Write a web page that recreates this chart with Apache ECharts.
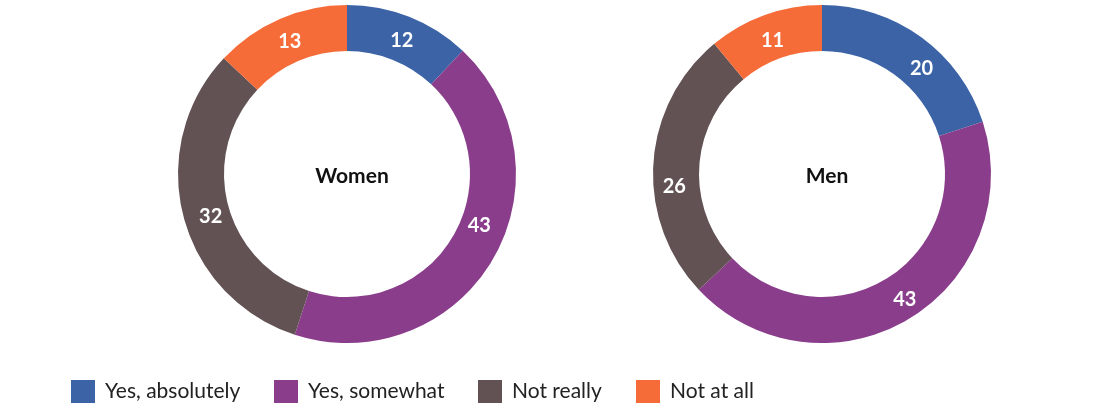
<!DOCTYPE html>
<html>
<head>
<meta charset="utf-8">
<script src="https://cdn.jsdelivr.net/npm/echarts@6/dist/echarts.min.js"></script>
<style>
  html, body { margin: 0; padding: 0; background: #fff; }
  #chart { width: 1105px; height: 417px; }
</style>
</head>
<body>
<div id="chart"></div>
<script>
// 数据
const categories = ['Yes, absolutely', 'Yes, somewhat', 'Not really', 'Not at all'];
const groups = ['Women', 'Men'];
const womenValues = [12, 43, 32, 13];
const menValues = [20, 43, 26, 11];
const colors = ['#3b63a6', '#893d8b', '#625254', '#f66c39'];

// 标签微调（像素偏移，仅用于样式）
const womenLabelNudge = [[0, 5], [4, -24], [8, 5], [2, 4]];
const menLabelNudge = [[12, 15], [7, -3], [1, 22], [1, 7]];

const FONT = 'Lato, "Open Sans", sans-serif';

// 饼图系列
function donut(name, values, nudge, cx) {
  return {
    type: 'pie',
    name: name,
    center: [cx, 174],
    radius: [123, 169],
    startAngle: 90,
    clockwise: true,
    avoidLabelOverlap: false,
    silent: true,
    itemStyle: { borderWidth: 0 },
    label: {
      show: true,
      position: 'inside',
      color: '#fff',
      fontFamily: FONT,
      fontWeight: 'bold',
      fontSize: 20,
      formatter: '{c}'
    },
    labelLine: { show: false },
    data: categories.map((c, i) => ({
      name: c,
      value: values[i],
      label: { offset: nudge[i] }
    }))
  };
}

// 每个图例单独定位
const legendLeft = [71, 274, 478, 636];
const legends = categories.map((c, i) => ({
  data: [c],
  left: legendLeft[i],
  top: 380,
  padding: 0,
  itemWidth: 24,
  itemHeight: 23,
  itemGap: 0,
  icon: 'rect',
  selectedMode: false,
  textStyle: { fontFamily: FONT, fontSize: 21, color: '#222', padding: [0, 0, 0, 5] }
}));

const titleStyle = { fontFamily: FONT, fontWeight: 'bold', fontSize: 21, color: '#111' };

const chart = echarts.init(document.getElementById('chart'));
chart.setOption({
  animation: false,
  color: colors,
  legend: legends,
  title: [
    { text: groups[0], left: 347, top: 171, textAlign: 'center', textVerticalAlign: 'middle', textStyle: titleStyle },
    { text: groups[1], left: 822, top: 171, textAlign: 'center', textVerticalAlign: 'middle', textStyle: titleStyle }
  ],
  series: [
    donut(groups[0], womenValues, womenLabelNudge, 347),
    donut(groups[1], menValues, menLabelNudge, 822)
  ]
});
</script>
</body>
</html>
